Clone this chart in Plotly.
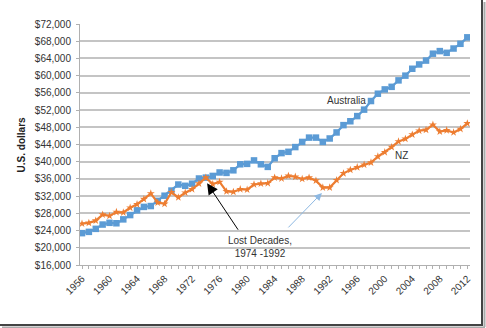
import plotly.graph_objects as go

years = list(range(1956, 2013))
australia = [23400, 23700, 24400, 25400, 25800, 25700, 26600, 27600, 28700, 29500,
             29700, 30900, 32100, 33300, 34700, 34400, 34900, 36100, 36300, 36700,
             37500, 37400, 38000, 39400, 39500, 40300, 39400, 38800, 40800, 42000,
             42300, 43400, 44600, 45600, 45600, 44600, 45400, 46800, 48500, 49400,
             50600, 52100, 54100, 55800, 56800, 57400, 58900, 60000, 61600, 62600,
             63500, 65100, 65700, 65300, 66300, 67400, 68900]
nz = [25600, 25800, 26300, 27700, 27400, 28300, 28200, 29300, 30100, 31300,
      32600, 30500, 30200, 32900, 31700, 32800, 33600, 34900, 36300, 34800,
      35300, 33100, 33000, 33600, 33500, 34700, 34900, 35000, 36300, 36100,
      36700, 36500, 36000, 36300, 35600, 34000, 34000, 35700, 37300, 38100,
      38700, 39300, 39800, 41200, 42200, 43400, 44700, 45300, 46300, 47200,
      47400, 48600, 47000, 47300, 46800, 47600, 48900]
x_tick_labels = [str(y) for y in range(1956, 2013, 4)]
y_ticks = list(range(16000, 72001, 4000))
y_tick_labels = ["${:,}".format(v) for v in y_ticks]

FONT = "Liberation Sans, Arial, sans-serif"
BLUE = "#5B9BD5"
ORANGE = "#ED7D31"

fig = go.Figure()
fig.add_trace(go.Scatter(x=years, y=australia, mode="lines+markers", name="Australia",
                         line=dict(color=BLUE, width=2.2),
                         marker=dict(symbol="square", size=6.5, color=BLUE)))
fig.add_trace(go.Scatter(x=years, y=nz, mode="lines+markers", name="NZ",
                         line=dict(color=ORANGE, width=2.2),
                         marker=dict(symbol="star", size=6, color=ORANGE)))

fig.update_layout(
    width=486, height=328,
    margin=dict(l=80, r=16, t=24, b=63),
    paper_bgcolor="white", plot_bgcolor="white",
    showlegend=False,
    font=dict(family=FONT, size=10, color="#333333"),
)
fig.update_xaxes(
    range=[1955.71, 2012.39],
    tickmode="array", tickvals=[int(t) for t in x_tick_labels], ticktext=x_tick_labels,
    tickangle=-45, showgrid=False, showline=True, linecolor="#b0b0b0", linewidth=1,
    ticks="outside", ticklen=3, tickcolor="#b0b0b0",
    minor=dict(dtick=1, tick0=1956, ticks="outside", ticklen=3, tickcolor="#b0b0b0", showgrid=False),
    tickfont=dict(size=10, color="#333333"), zeroline=False,
)
fig.update_yaxes(
    range=[16000, 72000], tickmode="array", tickvals=y_ticks, ticktext=y_tick_labels,
    showgrid=True, gridcolor="#c4c4c4", gridwidth=1.5,
    showline=True, linecolor="#b0b0b0", linewidth=1,
    ticks="outside", ticklen=3, tickcolor="#b0b0b0", ticklabelstandoff=3,
    tickfont=dict(size=10, color="#333333"), zeroline=False,
)

fig.add_annotation(text="<b>U.S. dollars</b>", xref="paper", yref="paper",
                   x=-0.149, y=0.5, textangle=-90, showarrow=False,
                   font=dict(size=10, color="#222222"), xanchor="center", yanchor="middle")
fig.add_annotation(text="Australia", x=1994.4, y=54300, showarrow=False,
                   font=dict(size=10, color="#333333"))
fig.add_annotation(text="NZ", x=2002.5, y=41500, showarrow=False,
                   font=dict(size=10, color="#333333"))
fig.add_annotation(text="Lost Decades,<br>1974 -1992", x=1981.9, y=20100, showarrow=False,
                   font=dict(size=10, color="#333333"), align="center")
fig.add_annotation(text="", x=1974.18, y=35000, ax=32, ay=48, showarrow=True,
                   arrowhead=2, arrowsize=2.2, arrowwidth=1, arrowcolor="black")
fig.add_annotation(text="", x=1990.87, y=32750, ax=-35, ay=36, showarrow=True,
                   arrowhead=2, arrowsize=1.5, arrowwidth=1, arrowcolor="#8DB8E2")

# screenshot frame (shadow on right and bottom)
fig.add_shape(type="line", xref="paper", yref="paper", x0=(482 - 80) / 390, x1=(482 - 80) / 390,
              y0=(265 - 0) / 241, y1=(265 - 325) / 241, line=dict(color="#444444", width=2))
fig.add_shape(type="line", xref="paper", yref="paper", x0=(0 - 80) / 390, x1=(483 - 80) / 390,
              y0=(265 - 325) / 241, y1=(265 - 325) / 241, line=dict(color="#444444", width=2))
fig.add_shape(type="line", xref="paper", yref="paper", x0=(484.5 - 80) / 390, x1=(484.5 - 80) / 390,
              y0=(265 - 2) / 241, y1=(265 - 327) / 241, line=dict(color="#aaaaaa", width=2))
fig.add_shape(type="line", xref="paper", yref="paper", x0=(2 - 80) / 390, x1=(485 - 80) / 390,
              y0=(265 - 327.5) / 241, y1=(265 - 327.5) / 241, line=dict(color="#aaaaaa", width=2))

fig.write_html("out.html")
